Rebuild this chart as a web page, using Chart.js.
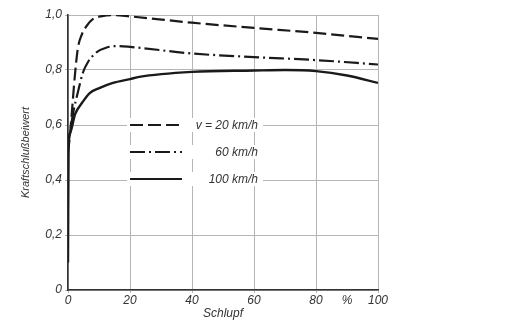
<!DOCTYPE html>
<html>
<head>
<meta charset="utf-8">
<script src="https://cdn.jsdelivr.net/npm/chart.js@4/dist/chart.umd.min.js"></script>
<style>
  html, body { margin: 0; padding: 0; background: #fff; }
  #wrap { width: 509px; height: 329px; }
</style>
</head>
<body>
<div id="wrap"><canvas id="chart" width="509" height="329"></canvas></div>
<script>
// Schlupf in %, Kraftschlussbeiwert
const slip20 = [0, 0.6, 2.3, 3.2, 4.5, 6, 8, 11, 14.5, 20, 40, 60, 80, 100];
const mu20 = [0.5, 0.56, 0.79, 0.88, 0.93, 0.96, 0.985, 0.996, 1.0, 0.995, 0.972, 0.953, 0.935, 0.913];

const slip60 = [0, 1.6, 3.2, 4.8, 6.5, 9.3, 12.5, 15.8, 20, 40, 60, 80, 100];
const mu60 = [0.52, 0.64, 0.72, 0.79, 0.83, 0.865, 0.882, 0.887, 0.884, 0.86, 0.847, 0.836, 0.82];

const slip100 = [0, 0.2, 0.6, 2.3, 4.5, 7, 10.3, 14.5, 20, 23, 40, 60, 70, 80, 90, 100];
const mu100 = [0.1, 0.54, 0.57, 0.64, 0.68, 0.716, 0.735, 0.753, 0.767, 0.775, 0.793, 0.798, 0.8, 0.796, 0.78, 0.753];

const legendLabels = ['v = 20 km/h', '60 km/h', '100 km/h'];
const xTicks = [0, 20, 40, 60, 80, 90, 100];
const xTickLabels = ['0', '20', '40', '60', '80', '%', '100'];
const yTicks = [0, 0.2, 0.4, 0.6, 0.8, 1.0];
const yTickLabels = ['0', '0,2', '0,4', '0,6', '0,8', '1,0'];

const dashes = [[13, 5], [15, 4, 2, 4], []];
const ink = '#1a1a1a';
const font = { family: 'Liberation Sans', size: 12, style: 'italic' };

function pts(xs, ys) {
    return xs.map((x, i) => ({ x: x, y: ys[i] }));
}

// legend drawn inside the plot, each row on a white strip like the original
const insideLegend = {
    id: 'insideLegend',
    afterDatasetsDraw(chart) {
        const ctx = chart.ctx;
        const x1 = 130, x2 = 182, textRight = 258;
        const rows = [125, 152, 179];
        ctx.save();
        ctx.font = 'italic 12px "Liberation Sans"';
        ctx.textAlign = 'right';
        ctx.textBaseline = 'middle';
        rows.forEach((y, i) => {
            ctx.fillStyle = '#fff';
            ctx.fillRect(127, y - 7, 136, 14);
            ctx.strokeStyle = ink;
            ctx.lineWidth = 2.2;
            ctx.setLineDash(dashes[i]);
            ctx.beginPath();
            ctx.moveTo(x1, y);
            ctx.lineTo(x2, y);
            ctx.stroke();
            ctx.setLineDash([]);
            ctx.fillStyle = '#333';
            ctx.fillText(legendLabels[i], textRight, y + 1);
        });
        ctx.restore();
    }
};

const ctx = document.getElementById('chart').getContext('2d');
new Chart(ctx, {
    type: 'line',
    data: {
        datasets: [
            { label: legendLabels[0], data: pts(slip20, mu20), borderDash: dashes[0] },
            { label: legendLabels[1], data: pts(slip60, mu60), borderDash: dashes[1] },
            { label: legendLabels[2], data: pts(slip100, mu100), borderDash: dashes[2], borderWidth: 2.4 }
        ].map(d => Object.assign({
            borderColor: ink,
            borderWidth: 2.2,
            pointRadius: 0,
            fill: false,
            cubicInterpolationMode: 'monotone'
        }, d))
    },
    options: {
        responsive: false,
        animation: false,
        layout: { padding: { top: 15, right: 131, bottom: 0, left: 0 } },
        plugins: { legend: { display: false }, tooltip: { enabled: false } },
        scales: {
            x: {
                type: 'linear',
                min: 0,
                max: 100,
                afterBuildTicks: s => { s.ticks = xTicks.map(v => ({ value: v })); },
                afterFit: s => { s.height = 39; },
                ticks: {
                    color: '#333',
                    font: font,
                    padding: 0,
                    maxRotation: 0,
                    callback: (v) => xTickLabels[xTicks.indexOf(v)]
                },
                grid: {
                    color: c => c.tick && c.tick.value === 90 ? 'rgba(0,0,0,0)' : '#b5b5b5',
                    lineWidth: 1,
                    tickLength: 3
                },
                border: { color: '#333', width: 1.6 },
                title: { display: true, text: 'Schlupf', color: '#333', font: font, padding: { top: 0, bottom: 8 } }
            },
            y: {
                min: 0,
                max: 1.0,
                afterBuildTicks: s => { s.ticks = yTicks.map(v => ({ value: v })); },
                afterFit: s => { s.width = 68; },
                ticks: {
                    color: '#333',
                    font: font,
                    padding: 3,
                    callback: (v) => yTickLabels[yTicks.findIndex(t => Math.abs(t - v) < 1e-6)]
                },
                grid: { color: '#b5b5b5', lineWidth: 1, tickLength: 3 },
                border: { color: '#333', width: 1.6 },
                title: {
                    display: true,
                    text: 'Kraftschlußbeiwert',
                    color: '#333',
                    font: { family: 'Liberation Sans', size: 11, style: 'italic' },
                    padding: { top: 19, bottom: 0 }
                }
            }
        }
    },
    plugins: [insideLegend]
});
</script>
</body>
</html>
